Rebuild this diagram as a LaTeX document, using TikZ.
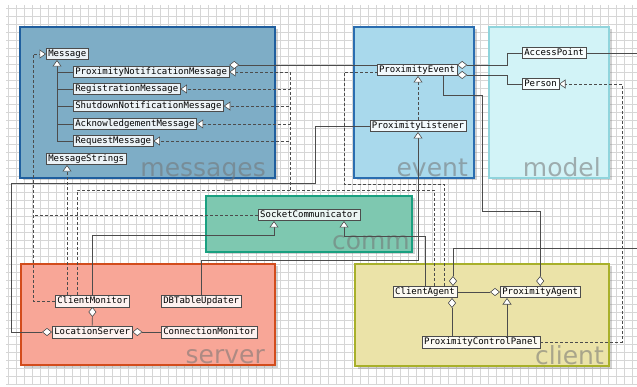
\documentclass[tikz,border=0pt]{standalone}
\usepackage{fontspec}
\setmonofont{DejaVu Sans Mono}
\newfontfamily\pkgfont{DejaVu Sans}
\usetikzlibrary{arrows.meta,shadows,calc}

\definecolor{msgfill}{HTML}{7EADC6}
\definecolor{msgline}{HTML}{1F5E9E}
\definecolor{evtfill}{HTML}{A9D9EC}
\definecolor{evtline}{HTML}{2A6DB0}
\definecolor{mdlfill}{HTML}{D2F3F7}
\definecolor{mdlline}{HTML}{90D4DC}
\definecolor{comfill}{HTML}{7EC8B0}
\definecolor{comline}{HTML}{1AA080}
\definecolor{srvfill}{HTML}{F8A697}
\definecolor{srvline}{HTML}{D24C1C}
\definecolor{clifill}{HTML}{EBE3A8}
\definecolor{cliline}{HTML}{A8B02A}
\definecolor{gridgray}{HTML}{D6D6D6}

\tikzset{
  pkg/.style={line width=2pt, drop shadow={opacity=0.35,shadow xshift=2.5pt,shadow yshift=-2.5pt}},
  pkglabel/.style={anchor=base east, inner sep=0pt, font=\pkgfont\fontsize{25}{25}\selectfont,
    text=black!55, text opacity=0.55},
  cls/.style={draw=black!70, line width=0.5pt, fill=white, fill opacity=0.85, text opacity=1,
    font=\ttfamily\fontsize{9}{9}\selectfont, inner xsep=2pt, inner ysep=0pt,
    minimum height=11.5pt, text height=6.8pt, text depth=1.8pt},
  link/.style={draw=black!70, line width=0.6pt},
  dep/.style={link, dash pattern=on 3pt off 2pt},
  gen/.style={-{Triangle[open,fill=white,length=6.5pt,width=9pt]}},
  agg/.style={{Diamond[open,fill=white,length=10pt,width=8pt]}-},
}

\begin{document}
\begin{tikzpicture}[x=1pt,y=-1pt]
  \useasboundingbox (0,0) rectangle (637,387);
  % grid paper
  \fill[white] (0,0) rectangle (637,387);
  \draw[gridgray, line width=0.5pt, step=8pt] (6,5) grid (637,385);

  % packages
  \path[pkg, fill=msgfill, draw=msgline, line width=2.5pt] (20,27) rectangle (275,178);
  \path[pkg, fill=evtfill, draw=evtline] (354,27) rectangle (474,178);
  \path[pkg, fill=mdlfill, draw=mdlline] (489,27) rectangle (609,178);
  \path[pkg, fill=comfill, draw=comline] (206,196) rectangle (412,252);
  \path[pkg, fill=srvfill, draw=srvline] (21,264) rectangle (275,365);
  \path[pkg, fill=clifill, draw=cliline] (355,264) rectangle (609,366);
  \node[pkglabel] (msglbl) at (266,177) {messages};
  \node[pkglabel] (evtlbl) at (468,177) {event};
  \node[pkglabel] (mdllbl) at (601,177) {model};
  \node[pkglabel] (comlbl) at (410,250) {comm};
  \node[pkglabel] (srvlbl) at (265,363) {server};
  \node[pkglabel] (clilbl) at (604,364) {client};

  % messages
  \node[cls, anchor=west] (message) at (46,54) {Message};
  \node[cls, anchor=west] (pnm) at (73,72) {ProximityNotificationMessage};
  \node[cls, anchor=west] (regmsg) at (73,89) {RegistrationMessage};
  \node[cls, anchor=west] (shutmsg) at (73,106) {ShutdownNotificationMessage};
  \node[cls, anchor=west] (ackmsg) at (73,124) {AcknowledgementMessage};
  \node[cls, anchor=west] (reqmsg) at (73,141) {RequestMessage};
  \node[cls, anchor=west] (msgstr) at (46,159) {MessageStrings};

  % event and model
  \node[cls] (pevent) at (417,70) {ProximityEvent};
  \node[cls] (plisten) at (418,126) {ProximityListener};
  \node[cls, anchor=west] (apoint) at (522,53) {AccessPoint};
  \node[cls, anchor=west] (person) at (522,84) {Person};

  % comm
  \node[cls] (sockcom) at (309,215) {SocketCommunicator};

  % server
  \node[cls, anchor=west] (cmon) at (55,301) {ClientMonitor};
  \node[cls, anchor=west] (dbtu) at (161,301) {DBTableUpdater};
  \node[cls, anchor=west] (lserver) at (52,332) {LocationServer};
  \node[cls, anchor=west] (conmon) at (161,332) {ConnectionMonitor};

  % client
  \node[cls] (cagent) at (425,292) {ClientAgent};
  \node[cls, anchor=west] (pagent) at (500,292) {ProximityAgent};
  \node[cls] (pcpanel) at (481,342) {ProximityControlPanel};

  % bends and loose ends
  \coordinate (msgtip) at ([xshift=11pt]message.south west);
  \coordinate (mbus) at (290,190);
  \coordinate (lrail) at (33,190);
  \coordinate (rrail) at (622,200);
  \coordinate (scA) at ([xshift=-35pt]sockcom.south);
  \coordinate (scB) at ([xshift=35pt]sockcom.south);
  \coordinate (lsA) at (11,183);
  \coordinate (lsB) at (315,183);
  \coordinate (peA) at (344,184);
  \coordinate (peB) at (482,211);
  \coordinate (peC) at (443,95);
  \coordinate (offA) at (637,53);
  \coordinate (offB) at (637,248);

  % message hierarchy
  \draw[link, gen] (reqmsg.west) -| (msgtip);
  \foreach \m in {pnm,regmsg,shutmsg,ackmsg}
    \draw[link] (\m.west) -- (\m.west -| msgtip);

  % users of the messages
  \draw[dep] ([xshift=22pt]cmon.north west) |- (mbus);
  \draw[dep] ([xshift=9pt]cagent.north) |- (mbus);
  \foreach \m in {pnm,regmsg,shutmsg,ackmsg,reqmsg}
    \draw[dep, gen] (mbus) |- (\m.east);
  \draw[dep, gen] (cmon.west) -| (lrail) |- (message.west);
  \draw[dep] (sockcom.west) -- (sockcom.west -| lrail);
  \draw[dep, gen] ([xshift=12pt]cmon.north west) -- ([xshift=12pt]cmon.north west |- msgstr.south);

  % socket communicator
  \draw[link, gen] (cmon.north) |- ([yshift=-14pt]scA) -- (scA);
  \draw[link, gen] (cagent.north) |- ([yshift=-15pt]scB) -- (scB);

  % listeners and events
  \draw[link, gen] (dbtu.north) |- ([yshift=-128pt]plisten.south) -- (plisten.south);
  \draw[link, agg] (lserver.west) -| (lsA) -- (lsB) |- (plisten.west);
  \draw[dep, gen] (plisten.north) -- (plisten.north |- pevent.south);
  \draw[dep] ([xshift=19pt]cagent.north) |- (peA) |- ([yshift=-2pt]pevent.west);
  \draw[link, agg] ([yshift=1pt]pnm.north east) -- ([yshift=1pt]pnm.north east -| pevent.west);
  \draw[link, agg] (pagent.north) |- (peB) |- (peC) -- (peC |- pevent.south);

  % model
  \draw[link, agg] ([yshift=-1pt]pevent.north east) -| ($(apoint.west)+(-15,0)$) -- (apoint.west);
  \draw[link, agg] ([yshift=1pt]pevent.south east) -| ($(person.west)+(-15,0)$) -- (person.west);
  \draw[link] (apoint.east) -- (offA);
  \draw[dep, gen] (pcpanel.east) -| (rrail) |- (person.east);

  % inside server
  \draw[link, agg] (cmon.south) -- (lserver.north);
  \draw[link, agg] (lserver.east) -- (conmon.west);

  % inside client
  \draw[link, agg] (pagent.west) -- (cagent.east);
  \draw[link, agg] ([xshift=27pt]cagent.south) -- ([xshift=27pt]cagent.south |- pcpanel.north);
  \draw[link, gen] ([xshift=26pt]pcpanel.north) -- ([xshift=26pt]pcpanel.north |- pagent.south);
  \draw[link, agg] ([xshift=28pt]cagent.north) |- (offB);
\end{tikzpicture}
\end{document}
